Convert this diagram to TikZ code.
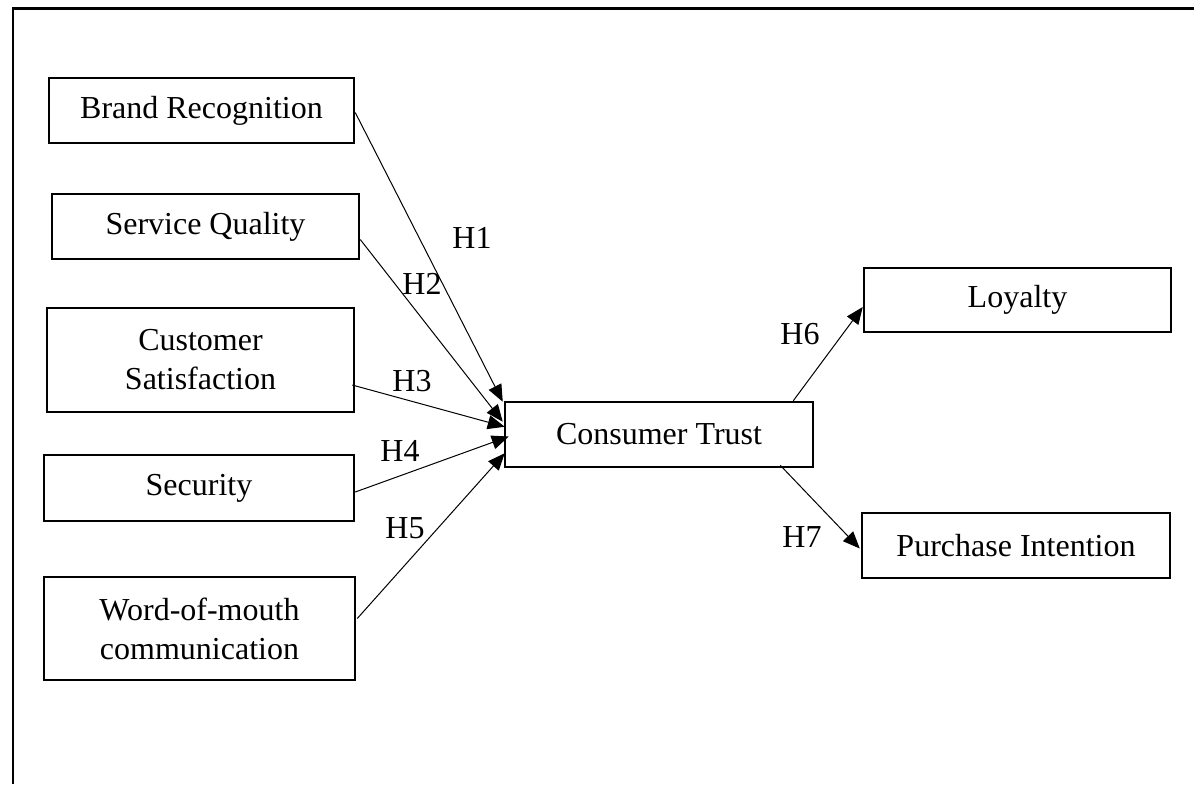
\documentclass[tikz,border=0pt]{standalone}
\usepackage{fontspec}
\setmainfont{Liberation Serif}
\usetikzlibrary{arrows.meta,calc}
\begin{document}
\begin{tikzpicture}[x=0.5pt,y=-0.5pt,
  every node/.style={font=\fontsize{16}{19.5}\selectfont},
  box/.style={draw,line width=1.25pt,align=center,inner sep=0pt},
  link/.style={line width=0.5pt,-{Triangle[length=8.5pt,width=7pt]}},
  hyp/.style={inner sep=0pt}]
\useasboundingbox (0,0) rectangle (1194,784);
\draw[line width=1.25pt] (13,784) -- (13,8.5) -- (1194,8.5);
\node[box,minimum width=152.5pt,minimum height=32.5pt] (br) at (201.5,110.5) {Brand Recognition};
\node[box,minimum width=153.5pt,minimum height=32.5pt] (sq) at (205.5,226.5) {Service Quality};
\node[box,minimum width=153.5pt,minimum height=52pt] (cs) at (200.5,360) {Customer\\Satisfaction};
\node[box,minimum width=155pt,minimum height=33pt] (se) at (199,488) {Security};
\node[box,minimum width=155.5pt,minimum height=51.5pt] (wm) at (199.5,628.5) {Word-of-mouth\\communication};
\node[box,minimum width=154pt,minimum height=32.5pt] (ct) at (659,434.5) {Consumer Trust};
\node[box,minimum width=153.5pt,minimum height=32pt] (lo) at (1017.5,300) {Loyalty};
\node[box,minimum width=154pt,minimum height=32.5pt] (pi) at (1016,545.5) {Purchase Intention};
\draw[link] ($(br.east)+(0,2)$) -- ($(ct.north west)+(-1,1)$);
\draw[link] ($(sq.east)+(0,13)$) -- ($(ct.north west)+(-1,21)$);
\draw[link] ($(cs.east)+(-3,25)$) -- ($(ct.north west)+(1,26)$);
\draw[link] ($(se.east)+(0,4)$) -- ($(ct.west)+(5,2)$);
\draw[link] ($(wm.east)+(1,-10)$) -- ($(ct.south west)+(1,-15)$);
\draw[link] ($(ct.north east)+(-21,0)$) -- ($(lo.west)+(0,7)$);
\draw[link] ($(ct.south east)+(-34,-3)$) -- ($(pi.west)+(-1,3)$);
\node[hyp] (h1) at (472,238) {H1};
\node[hyp] (h2) at (422,284) {H2};
\node[hyp] (h3) at (412,381) {H3};
\node[hyp] (h4) at (400,451) {H4};
\node[hyp] (h5) at (405,528) {H5};
\node[hyp] (h6) at (800,334) {H6};
\node[hyp] (h7) at (802,537) {H7};
\end{tikzpicture}
\end{document}
